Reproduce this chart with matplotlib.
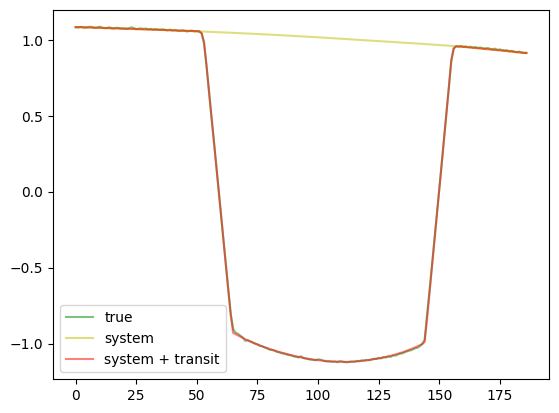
import numpy as np
import matplotlib
matplotlib.use("Agg")
import matplotlib.pyplot as plt

# observed light curve, one value per time step
true_flux = [
    1.086, 1.084, 1.089, 1.085, 1.083, 1.087, 1.090, 1.086, 1.081, 1.085,
    1.090, 1.083, 1.080, 1.082, 1.086, 1.078, 1.080, 1.083, 1.081, 1.077,
    1.079, 1.076, 1.080, 1.086, 1.081, 1.074, 1.077, 1.079, 1.075, 1.078,
    1.073, 1.076, 1.071, 1.074, 1.072, 1.070, 1.073, 1.069, 1.066, 1.071,
    1.065, 1.068, 1.064, 1.061, 1.066, 1.063, 1.058, 1.062, 1.064, 1.059,
    1.061, 1.057,
    1.048, 0.975, 0.830, 0.665, 0.500, 0.345, 0.180, 0.012, -0.150, -0.318,
    -0.480, -0.645, -0.800, -0.905,
    -0.928, -0.936, -0.948, -0.960, -0.982, -0.978, -0.985, -0.992, -1.000, -1.004,
    -1.014, -1.018, -1.026, -1.031, -1.040, -1.042, -1.046, -1.055, -1.058, -1.064,
    -1.066, -1.072, -1.076, -1.078, -1.085, -1.087, -1.092, -1.084, -1.096, -1.099,
    -1.103, -1.106, -1.108, -1.110, -1.104, -1.106, -1.112, -1.117, -1.119, -1.118,
    -1.121, -1.119, -1.123, -1.116, -1.118, -1.122, -1.124, -1.121, -1.118, -1.119,
    -1.114, -1.116, -1.111, -1.112, -1.108, -1.110, -1.106, -1.100, -1.102, -1.095,
    -1.098, -1.090, -1.092, -1.085, -1.088, -1.078, -1.080, -1.072, -1.066, -1.064,
    -1.056, -1.050, -1.046, -1.040, -1.032, -1.028, -1.018, -1.004,
    -0.975, -0.810, -0.655, -0.490, -0.325, -0.160, 0.005, 0.175, 0.345, 0.520,
    0.690, 0.870, 0.948, 0.962,
    0.959, 0.963, 0.957, 0.960, 0.955, 0.958, 0.952, 0.956, 0.950, 0.953,
    0.948, 0.946, 0.950, 0.944, 0.941, 0.945, 0.938, 0.940, 0.936, 0.933,
    0.935, 0.928, 0.931, 0.925, 0.921, 0.926, 0.919, 0.917, 0.918,
]

# systematics trend
sys_t = [0, 20, 40, 60, 80, 100, 120, 140, 160, 175, 186]
sys_flux = [1.088, 1.077, 1.066, 1.053, 1.038, 1.020, 1.000, 0.980, 0.958, 0.934, 0.916]

# systematics times transit model
model_t = [0, 20, 40, 51, 52, 53, 54, 55, 56, 57, 58, 59, 60, 61, 62, 63, 64, 65,
           70, 75, 80, 85, 90, 95, 100, 105, 110, 115, 120, 125, 130, 135, 140, 143,
           144, 145, 146, 147, 148, 149, 150, 151, 152, 153, 154, 155, 156, 157,
           160, 175, 186]
model_flux = [1.088, 1.077, 1.066, 1.060, 1.045, 0.990, 0.835, 0.670, 0.505, 0.340,
              0.175, 0.010, -0.155, -0.320, -0.485, -0.650, -0.815, -0.930,
              -0.972, -1.007, -1.036, -1.060, -1.081, -1.098, -1.110, -1.117, -1.121,
              -1.120, -1.111, -1.098, -1.081, -1.057, -1.026, -1.003,
              -0.990, -0.840, -0.670, -0.500, -0.330, -0.160, 0.010, 0.180, 0.350,
              0.520, 0.690, 0.860, 0.945, 0.960,
              0.957, 0.934, 0.916]


def plotter():
    fig = plt.figure(figsize=(5.59, 4.13), dpi=100)
    fig.subplots_adjust(left=0.095, right=0.982, top=0.976, bottom=0.082)
    ax = fig.add_subplot(111)
    ax.plot(np.arange(len(true_flux)), true_flux, "g", alpha=0.5, label="true")
    ax.plot(sys_t, sys_flux, "y", alpha=0.5, label="system")
    ax.plot(model_t, model_flux, "r", alpha=0.5, label="system + transit")
    ax.legend(loc="lower left")
    fig.savefig("out.png", dpi=100)


def main():
    plotter()


if __name__ == "__main__":
    main()
